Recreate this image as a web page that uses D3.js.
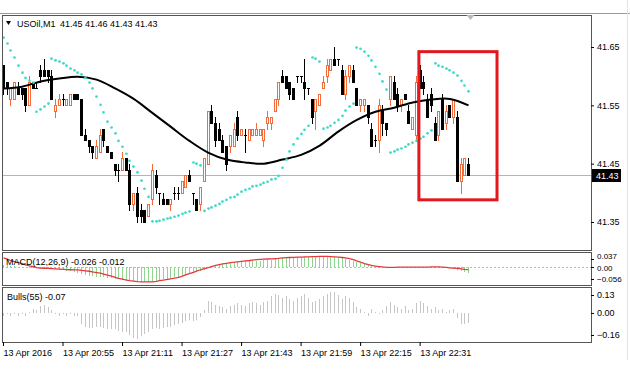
<!doctype html>
<html>
<head>
    <meta charset="utf-8">
    <title>USOil,M1</title>
    <style>
        body { margin: 0; background: #fff; }
        svg { display: block; font-family: "Liberation Sans", Arial, sans-serif; font-size: 9px; }
    </style>
</head>
<body>

    <svg id="chart" width="630" height="376"></svg>

    <script src="https://d3js.org/d3.v7.min.js"></script>

    <script>

        /* --- values --- */

        var symbol = 'USOil,M1';
        var lastBarText = '41.45 41.46 41.43 41.43';
        var lastPrice = 41.43;

        var timeTickBars = [0, 16, 32, 48, 64, 80, 96, 112];
        var timeLabels = ['13 Apr 2016', '13 Apr 20:55', '13 Apr 21:11', '13 Apr 21:27',
                          '13 Apr 21:43', '13 Apr 21:59', '13 Apr 22:15', '13 Apr 22:31'];

        var priceTicks = [41.65, 41.55, 41.45, 41.35];
        var macdTicks = [0.037, 0, -0.056];
        var bullsTicks = [0.13, 0, -0.16];

        // open, high, low, close for each M1 bar
        var ohlc = [
            [41.62,41.62,41.57,41.58],[41.59,41.59,41.57,41.58],[41.56,41.58,41.55,41.58],[41.56,41.59,41.56,41.59],
            [41.58,41.59,41.57,41.57],[41.58,41.58,41.56,41.57],[41.58,41.58,41.54,41.55],[41.55,41.60,41.55,41.59],
            [41.59,41.59,41.58,41.58],[41.58,41.59,41.58,41.58],[41.61,41.62,41.59,41.60],[41.61,41.63,41.60,41.60],
            [41.61,41.61,41.59,41.60],[41.60,41.61,41.56,41.56],[41.54,41.56,41.53,41.55],[41.55,41.57,41.55,41.56],
            [41.56,41.57,41.55,41.56],[41.55,41.56,41.55,41.56],[41.55,41.57,41.55,41.57],[41.57,41.57,41.56,41.56],
            [41.57,41.57,41.56,41.56],[41.56,41.56,41.50,41.50],[41.50,41.51,41.49,41.49],[41.49,41.49,41.47,41.48],
            [41.48,41.48,41.46,41.47],[41.46,41.49,41.46,41.48],[41.47,41.51,41.47,41.50],[41.51,41.51,41.48,41.49],
            [41.48,41.48,41.47,41.47],[41.47,41.47,41.46,41.46],[41.45,41.45,41.43,41.44],[41.44,41.45,41.42,41.44],
            [41.44,41.47,41.44,41.46],[41.46,41.46,41.44,41.44],[41.44,41.45,41.37,41.38],[41.38,41.40,41.37,41.40],
            [41.40,41.41,41.35,41.36],[41.37,41.38,41.35,41.36],[41.37,41.37,41.35,41.35],[41.36,41.38,41.36,41.38],
            [41.39,41.45,41.38,41.44],[41.43,41.44,41.40,41.41],[41.40,41.40,41.38,41.40],[41.39,41.40,41.38,41.38],
            [41.39,41.39,41.38,41.38],[41.38,41.39,41.37,41.39],[41.40,41.41,41.39,41.40],[41.40,41.41,41.39,41.40],
            [41.40,41.42,41.40,41.42],[41.41,41.43,41.41,41.43],[41.43,41.44,41.42,41.42],[41.40,41.40,41.38,41.40],
            [41.39,41.39,41.37,41.37],[41.38,41.41,41.37,41.41],[41.42,41.46,41.42,41.46],[41.45,41.54,41.45,41.54],
            [41.54,41.55,41.52,41.52],[41.52,41.53,41.48,41.49],[41.51,41.52,41.49,41.49],[41.49,41.50,41.47,41.47],
            [41.48,41.48,41.44,41.45],[41.48,41.50,41.47,41.50],[41.48,41.52,41.48,41.51],[41.53,41.54,41.49,41.50],
            [41.50,41.51,41.50,41.51],[41.50,41.51,41.47,41.50],[41.49,41.51,41.49,41.51],[41.50,41.51,41.50,41.51],
            [41.50,41.52,41.50,41.51],[41.50,41.51,41.50,41.51],[41.49,41.51,41.48,41.51],[41.52,41.54,41.51,41.53],
            [41.52,41.53,41.51,41.53],[41.54,41.56,41.54,41.56],[41.56,41.59,41.55,41.59],[41.60,41.61,41.59,41.59],
            [41.60,41.60,41.58,41.58],[41.59,41.59,41.56,41.57],[41.58,41.58,41.56,41.56],[41.60,41.60,41.59,41.60],
            [41.60,41.60,41.59,41.60],[41.59,41.63,41.56,41.58],[41.58,41.58,41.57,41.58],[41.56,41.56,41.52,41.53],
            [41.54,41.56,41.51,41.56],[41.55,41.57,41.55,41.57],[41.58,41.60,41.58,41.59],[41.60,41.63,41.59,41.62],
            [41.61,41.63,41.61,41.63],[41.63,41.65,41.62,41.62],[41.63,41.63,41.62,41.63],[41.61,41.62,41.57,41.57],
            [41.57,41.61,41.56,41.60],[41.60,41.62,41.59,41.62],[41.61,41.62,41.59,41.59],[41.58,41.58,41.55,41.55],
            [41.55,41.56,41.54,41.56],[41.55,41.56,41.54,41.56],[41.55,41.55,41.52,41.53],[41.51,41.52,41.48,41.48],
            [41.49,41.50,41.48,41.49],[41.49,41.56,41.47,41.55],[41.54,41.55,41.50,41.52],[41.52,41.52,41.50,41.51],
            [41.56,41.60,41.55,41.60],[41.59,41.60,41.56,41.56],[41.57,41.58,41.54,41.55],[41.55,41.56,41.54,41.56],
            [41.57,41.57,41.56,41.56],[41.54,41.55,41.52,41.52],[41.51,41.53,41.51,41.53],[41.50,41.60,41.49,41.59],
            [41.61,41.62,41.58,41.58],[41.59,41.60,41.57,41.58],[41.56,41.57,41.53,41.53],[41.57,41.58,41.54,41.55],
            [41.52,41.53,41.49,41.49],[41.50,41.54,41.49,41.54],[41.56,41.57,41.51,41.51],[41.52,41.55,41.51,41.54],
            [41.55,41.55,41.53,41.53],[41.53,41.56,41.52,41.56],[41.53,41.54,41.42,41.42],[41.42,41.46,41.40,41.45],
            [41.43,41.46,41.43,41.46],[41.45,41.46,41.43,41.43]
        ];

        // moving average, read every 5th bar
        var maBars = [0,5,10,15,20,25,30,35,40,45,50,55,60,65,70,75,80,85,90,95,100,105,110,115,120,125];
        var maValues = [41.579,41.582,41.591,41.596,41.599,41.594,41.579,41.561,41.537,41.513,41.489,41.469,41.457,
                        41.452,41.450,41.457,41.465,41.481,41.505,41.525,41.539,41.546,41.555,41.560,41.561,41.550];

        // parabolic SAR, one dot per bar
        var sar = [
            41.666,41.656,41.644,41.632,41.618,41.606,41.597,41.592,41.589,
            41.539,41.543,41.548,41.553,
            41.630,41.627,41.625,41.622,41.618,41.613,41.610,41.606,41.603,41.597,41.589,41.579,41.565,41.551,
            41.538,41.522,41.512,41.502,41.489,41.479,41.467,41.455,41.445,41.435,41.421,41.407,41.393,
            41.351,41.351,41.352,41.354,41.356,41.357,41.359,41.361,41.364,41.366,41.368,
            41.452,41.450,41.447,
            41.369,41.373,41.375,41.378,41.381,41.385,41.388,41.392,41.393,41.397,41.402,41.405,41.407,41.411,
            41.412,41.414,41.417,41.419,41.423,41.424,41.429,41.443,41.457,41.471,41.483,41.493,41.501,41.508,41.515,
            41.632,41.630,41.625,
            41.510,41.512,41.515,41.520,41.525,41.532,41.541,41.548,41.553,
            41.649,41.647,41.642,41.635,41.627,41.616,41.604,41.591,41.577,
            41.469,41.471,41.474,41.476,41.479,41.483,41.486,41.489,41.493,41.496,41.502,41.507,
            41.622,41.618,41.616,41.613,41.610,41.606,41.601,41.592,41.584,41.574
        ];

        // MACD(12,26,9): main histogram and signal line
        var macdMain = [
            0.010,0.008,0.006,0.004,0.002,0.000,-0.002,-0.003,-0.004,-0.004,-0.005,
            -0.005,-0.006,-0.008,-0.010,-0.012,-0.014,-0.017,-0.020,-0.024,-0.028,-0.033,
            -0.037,-0.040,-0.043,-0.045,-0.047,-0.049,-0.051,-0.053,-0.055,-0.058,-0.060,-0.062,
            -0.064,-0.066,-0.068,-0.069,-0.069,-0.068,-0.065,-0.063,-0.060,-0.058,-0.055,-0.052,-0.049,
            -0.045,-0.041,-0.037,-0.033,-0.028,-0.023,-0.018,-0.012,-0.005,0.002,0.006,
            0.010,0.014,0.017,0.020,0.022,0.024,0.025,0.026,0.027,0.028,0.029,0.030,0.031,
            0.032,0.034,0.036,0.038,0.040,0.042,0.043,0.044,0.045,0.046,0.046,0.046,0.045,0.044,0.044,
            0.045,0.046,0.046,0.045,0.043,0.040,0.036,0.032,0.027,0.022,0.017,0.013,0.010,0.006,
            0.004,0.002,0.001,0.000,0.001,0.001,0.000,0.000,-0.001,-0.002,-0.002,-0.001,0.000,0.000,
            -0.002,-0.003,-0.004,-0.004,-0.005,-0.006,-0.007,-0.008,-0.012,-0.020,-0.025,-0.026
        ];
        var macdSignal = [
            0.042,0.036,0.030,0.025,0.020,0.015,0.010,0.005,0.001,-0.003,-0.005,-0.006,-0.007,-0.008,
            -0.009,-0.010,-0.011,-0.012,-0.013,-0.014,-0.014,-0.016,-0.018,-0.020,-0.023,-0.026,-0.029,
            -0.033,-0.038,-0.043,-0.048,-0.053,-0.057,-0.061,-0.064,-0.066,-0.068,-0.069,-0.069,-0.069,
            -0.069,-0.067,-0.064,-0.061,-0.058,-0.055,-0.052,-0.048,-0.043,-0.037,-0.031,-0.025,-0.019,
            -0.013,-0.008,-0.003,0.002,0.007,0.011,0.014,0.017,0.020,0.022,0.024,0.026,0.028,0.030,0.032,
            0.034,0.035,0.036,0.037,0.038,0.039,0.040,0.042,0.043,0.044,0.045,0.046,0.046,0.047,0.047,
            0.048,0.048,0.049,0.049,0.049,0.048,0.047,0.046,0.044,0.042,0.039,0.034,0.028,0.022,0.016,
            0.011,0.007,0.004,0.002,0.000,-0.002,-0.002,-0.002,-0.001,-0.001,-0.001,-0.001,-0.001,-0.001,
            -0.001,-0.001,-0.001,0.000,0.000,0.000,-0.001,-0.002,-0.004,-0.005,-0.007,-0.009,-0.011,-0.012
        ];

        // Bulls Power(55)
        var bulls = [
            -0.02,-0.01,-0.02,-0.01,-0.02,-0.01,-0.02,0.01,0.03,0.02,0.05,0.06,0.04,0.02,
            -0.01,-0.02,-0.01,-0.02,-0.01,-0.02,-0.02,-0.08,-0.10,-0.11,-0.11,-0.10,-0.10,-0.11,-0.12,
            -0.12,-0.12,-0.13,-0.14,-0.14,-0.16,-0.18,-0.19,-0.17,-0.15,-0.14,
            -0.12,-0.11,-0.12,-0.11,-0.10,-0.10,-0.09,-0.08,-0.07,-0.06,-0.05,-0.06,-0.05,-0.03,
            0.02,0.09,0.08,0.06,0.05,0.04,0.03,0.05,0.06,0.07,0.06,0.05,0.07,0.08,0.07,0.06,0.08,
            0.09,0.12,0.14,0.13,0.11,0.12,0.10,0.09,0.11,0.12,0.14,0.11,0.08,0.09,
            0.10,0.12,0.14,0.15,0.15,0.13,0.10,0.12,0.11,0.08,0.04,0.03,0.01,-0.02,0.03,
            0.01,-0.01,0.02,0.05,0.08,0.06,0.04,0.03,0.05,0.02,0.03,0.07,0.09,0.07,
            0.05,0.03,0.04,0.02,0.03,0.01,0.02,0.03,-0.04,-0.08,-0.08,-0.07
        ];

        // red box drawn on the screenshot (bar positions and prices)
        var highlight = { fromBar: 111.8, toBar: 132.8, top: 41.642, bottom: 41.388 };

        /* --- layout --- */

        var left = 2, right = 591;
        var panels = {
            main:  { top: 15, bottom: 250 },
            macd:  { top: 252, bottom: 285 },
            bulls: { top: 287, bottom: 342 }
        };

        var bullColor = '#f26b3a', bearColor = '#000';
        var sarColor = '#3ed8c8';
        var fontFamily = '"Liberation Sans", Arial, sans-serif';

        var svg = d3.select('#chart');

        var x = d3.scaleLinear().domain([0, ohlc.length - 1]).range([3, 468]);
        var yMain = d3.scaleLinear().domain([41.35, 41.65]).range([222, 47]);
        var yMacd = d3.scaleLinear().domain([-0.056, 0.037]).range([279, 259]);
        var yBulls = d3.scaleLinear().domain([-0.16, 0.13]).range([335, 295]);

        function px(i){ return Math.round(x(i)); }

        // clip paths for each panel
        var defs = svg.append('defs');
        Object.keys(panels).forEach(function(k){
            defs.append('clipPath').attr('id', 'clip-' + k)
                .append('rect')
                .attr('x', left + 1).attr('y', panels[k].top + 1)
                .attr('width', right - left - 1).attr('height', panels[k].bottom - panels[k].top - 1);
        });

        // window top line + panel frames
        svg.append('line')
            .attr('x1', 0).attr('x2', 630).attr('y1', 13.5).attr('y2', 13.5)
            .attr('stroke', '#9a9a9a');
        Object.keys(panels).forEach(function(k){
            svg.append('rect')
                .attr('x', left + 0.5).attr('y', panels[k].top + 0.5)
                .attr('width', right - left).attr('height', panels[k].bottom - panels[k].top)
                .attr('fill', 'none').attr('stroke', '#555');
        });
        svg.append('line')
            .attr('x1', 627.5).attr('x2', 627.5).attr('y1', 0).attr('y2', 360)
            .attr('stroke', '#dfe5ec');

        /* --- main panel --- */

        var gMain = svg.append('g').attr('clip-path', 'url(#clip-main)');

        // last price line
        gMain.append('line')
            .attr('x1', left).attr('x2', right)
            .attr('y1', Math.round(yMain(lastPrice)) + 0.5).attr('y2', Math.round(yMain(lastPrice)) + 0.5)
            .attr('stroke', '#b4b4b4');

        var candles = gMain.selectAll('g.candle')
            .data(ohlc)
            .enter()
            .append('g')
            .attr('class', 'candle');

        candles.each(function(d, i){
            var g = d3.select(this);
            var o = d[0], h = d[1], l = d[2], c = d[3];
            var cx = px(i);
            var yH = Math.round(yMain(h)), yL = Math.round(yMain(l));
            var yO = Math.round(yMain(o)), yC = Math.round(yMain(c));
            var col = c > o ? bullColor : bearColor;

            g.append('line')
                .attr('x1', cx + 0.5).attr('x2', cx + 0.5)
                .attr('y1', yH).attr('y2', yL + 1)
                .attr('stroke', col);

            if(c > o){
                g.append('rect')
                    .attr('x', cx - 0.5).attr('y', yC + 0.5)
                    .attr('width', 2).attr('height', Math.max(yO - yC, 1))
                    .attr('fill', '#fff').attr('stroke', bullColor);
            }
            else if(c < o){
                g.append('rect')
                    .attr('x', cx - 1).attr('y', yO)
                    .attr('width', 3).attr('height', Math.max(yC - yO, 1) + 1)
                    .attr('fill', bearColor);
            }
            else{
                g.append('line')
                    .attr('x1', cx - 1).attr('x2', cx + 2)
                    .attr('y1', yO + 0.5).attr('y2', yO + 0.5)
                    .attr('stroke', bearColor);
            }
        });

        // moving average
        var maLine = d3.line()
            .x(function(d){ return x(d) + 0.5; })
            .y(function(d, i){ return yMain(maValues[i]); })
            .curve(d3.curveCatmullRom);

        gMain.append('path')
            .attr('d', maLine(maBars))
            .attr('fill', 'none')
            .attr('stroke', '#000')
            .attr('stroke-width', 2);

        // parabolic SAR
        gMain.selectAll('circle.sar')
            .data(sar)
            .enter()
            .append('circle')
            .attr('class', 'sar')
            .attr('cx', function(d, i){ return px(i) + 0.5; })
            .attr('cy', function(d){ return yMain(d); })
            .attr('r', 1.35)
            .attr('fill', sarColor);

        // red box
        svg.append('rect')
            .attr('x', x(highlight.fromBar))
            .attr('y', yMain(highlight.top))
            .attr('width', x(highlight.toBar) - x(highlight.fromBar))
            .attr('height', yMain(highlight.bottom) - yMain(highlight.top))
            .attr('fill', 'none')
            .attr('stroke', '#e3171c')
            .attr('stroke-width', 3);

        // header
        svg.append('path')
            .attr('d', 'M6,21 L11,21 L8.5,25 Z')
            .attr('fill', '#000');
        svg.append('text').attr('x', 17).attr('y', 27).attr('fill', '#000').text(symbol);
        svg.append('text').attr('x', 60).attr('y', 27).attr('fill', '#000').text(lastBarText);

        // chart shift marker
        var shiftX = px(ohlc.length - 1) + 2.5;
        svg.append('path')
            .attr('d', 'M' + (shiftX - 4) + ',15 L' + (shiftX + 4) + ',15 L' + shiftX + ',20 Z')
            .attr('fill', '#b9b9b9');

        /* --- MACD panel --- */

        var gMacd = svg.append('g').attr('clip-path', 'url(#clip-macd)');

        gMacd.append('line')
            .attr('x1', left).attr('x2', right)
            .attr('y1', Math.round(yMacd(0)) + 0.5).attr('y2', Math.round(yMacd(0)) + 0.5)
            .attr('stroke', '#b8b8b8')
            .attr('stroke-dasharray', '2,2');

        gMacd.selectAll('line.hist')
            .data(macdMain)
            .enter()
            .append('line')
            .attr('class', 'hist')
            .attr('x1', function(d, i){ return px(i) + 0.5; })
            .attr('x2', function(d, i){ return px(i) + 0.5; })
            .attr('y1', Math.round(yMacd(0)))
            .attr('y2', function(d){ return Math.round(yMacd(d)); })
            .attr('stroke', '#8fd48f');

        gMacd.append('path')
            .attr('d', d3.line()
                .x(function(d, i){ return px(i) + 0.5; })
                .y(function(d){ return yMacd(d); })(macdSignal))
            .attr('fill', 'none')
            .attr('stroke', '#e33b3b')
            .attr('stroke-width', 1.3);

        svg.append('text').attr('x', 6).attr('y', 265).attr('fill', '#000')
            .text('MACD(12,26,9) ' + macdMain[macdMain.length - 1].toFixed(3) + ' ' +
                  macdSignal[macdSignal.length - 1].toFixed(3));

        /* --- Bulls panel --- */

        var gBulls = svg.append('g').attr('clip-path', 'url(#clip-bulls)');

        gBulls.selectAll('line.bulls')
            .data(bulls)
            .enter()
            .append('line')
            .attr('class', 'bulls')
            .attr('x1', function(d, i){ return px(i) + 0.5; })
            .attr('x2', function(d, i){ return px(i) + 0.5; })
            .attr('y1', Math.round(yBulls(0)))
            .attr('y2', function(d){ return Math.round(yBulls(d)); })
            .attr('stroke', '#c6c6c6');

        svg.append('text').attr('x', 7).attr('y', 300).attr('fill', '#000')
            .text('Bulls(55) ' + bulls[bulls.length - 1].toFixed(2));

        /* --- axes --- */

        function rightAxis(scale, ticks, fmt, size){
            var g = svg.append('g')
                .attr('transform', 'translate(' + right + ',0)')
                .call(d3.axisRight(scale).tickValues(ticks).tickSize(3).tickPadding(3).tickFormat(fmt));
            g.select('.domain').remove();
            g.selectAll('line').attr('stroke', '#000');
            g.selectAll('text').attr('fill', '#000')
                .style('font-size', (size || 9) + 'px')
                .style('font-family', fontFamily);
            return g;
        }

        rightAxis(yMain, priceTicks, d3.format('.2f'));
        var macdAxis = rightAxis(yMacd, macdTicks,
            function(d){ return d === 0 ? '0.00' : d3.format('.3f')(d); }, 8);
        // the two upper MACD labels sit very close; nudge them apart a little
        macdAxis.selectAll('text').attr('dy', function(d){
            if(d > 0) return '-0.05em';
            if(d === 0) return '0.45em';
            return '0.32em';
        });
        rightAxis(yBulls, bullsTicks, d3.format('.2f'));

        // last price tag
        svg.append('rect')
            .attr('x', right + 1).attr('y', Math.round(yMain(lastPrice)) - 6)
            .attr('width', 29).attr('height', 13)
            .attr('fill', '#000');
        svg.append('text')
            .attr('x', right + 5).attr('y', Math.round(yMain(lastPrice)) + 4)
            .attr('fill', '#fff')
            .text(lastPrice.toFixed(2));

        // time axis
        var xAxis = svg.append('g')
            .attr('transform', 'translate(0,' + panels.bulls.bottom + ')')
            .call(d3.axisBottom(x).tickValues(timeTickBars).tickSize(4).tickPadding(4)
                .tickFormat(function(d, i){ return timeLabels[i]; }));
        xAxis.select('.domain').remove();
        xAxis.selectAll('line').attr('stroke', '#000');
        xAxis.selectAll('text')
            .attr('text-anchor', 'start')
            .attr('x', 0)
            .attr('fill', '#000')
            .style('font-size', '9px')
            .style('font-family', fontFamily);

    </script>

</body>
</html>
